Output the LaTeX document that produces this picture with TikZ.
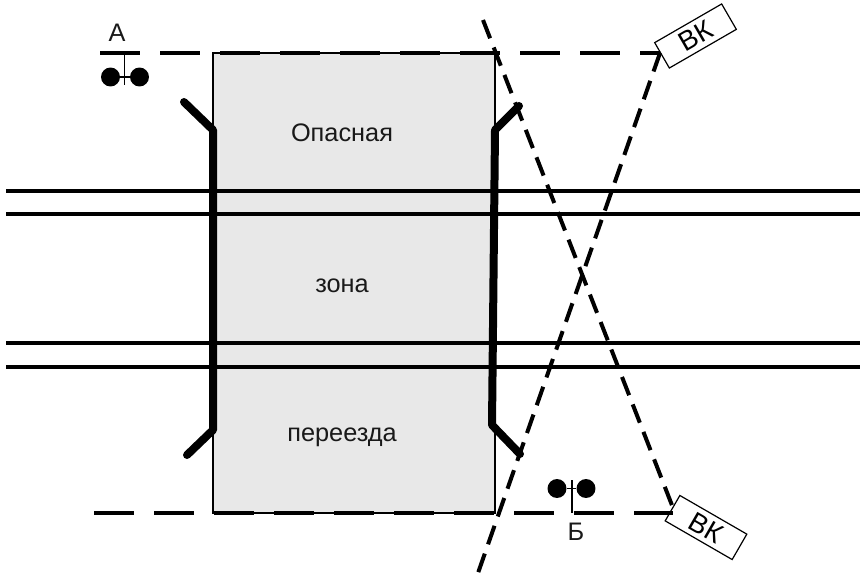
\documentclass[tikz,border=0pt]{standalone}
\usepackage{fontspec}
\setmainfont{Liberation Sans}
\tikzset{
  zone/.style={draw=black,line width=0.9pt,fill=black!9,minimum width=211.5pt,minimum height=345pt,inner sep=0pt},
  lbl/.style={font=\fontsize{19}{21}\selectfont,inner sep=0pt,anchor=base,text=black!90},
  rail/.style={line width=3.3pt},
  barrier/.style={line width=6pt,line cap=round,line join=round},
  stopline/.style={line width=2.6pt,dash pattern=on 30pt off 15pt},
  sight/.style={line width=3pt,dash pattern=on 14.7pt off 7.4pt},
  thin line/.style={line width=0.9pt},
  lamp/.style={circle,fill=black,minimum size=14.2pt,inner sep=0pt},
  camera/.style={draw=black,fill=white,line width=0.9pt,minimum width=58pt,minimum height=22pt,inner sep=0pt,font=\fontsize{20.5}{22}\selectfont}
}
\begin{document}
\begin{tikzpicture}[x=0.75pt,y=-0.75pt]
\useasboundingbox (0,0) rectangle (866,577);
\node[zone] (Z) at (354,283) {};
\node[lbl] (t1) at (342,142) {Опасная};
\node[lbl] (t2) at (342,292) {зона};
\node[lbl] (t3) at (342,441) {переезда};
% rails
\foreach \n/\y in {a/191,b/214,c/343,d/367}{
  \coordinate (r\n l) at (6,\y);
  \coordinate (r\n r) at (860,\y);
  \draw[rail] (r\n l) -- (r\n r);
}
% barriers
\coordinate (b1) at (184,102);\coordinate (b2) at (213,130);\coordinate (b3) at (213,430);\coordinate (b4) at (187,455);
\draw[barrier] (b1) -- (b2) -- (b3) -- (b4);
\coordinate (c1) at (519,106);\coordinate (c2) at (495,130);\coordinate (c3) at (492,425);\coordinate (c4) at (520,454);
\draw[barrier] (c1) -- (c2) -- (c3) -- (c4);
% cameras
\node[camera,rotate=30] (V1) at (695.5,36) {ВК};
\node[camera,rotate=-30] (V2) at (706,527.5) {ВК};
% stop lines
\coordinate (s1) at (100,53);\coordinate (s2) at (660,53);
\coordinate (s3) at (94,513);\coordinate (s4) at (673,513);
\draw[stopline] (s1) -- (s2);
\draw[stopline] (s3) -- (s4);
% sight lines
\coordinate (k1) at (483,20);\coordinate (k2) at (675,513);
\coordinate (k3) at (478,573);\coordinate (k4) at (660,53);
\draw[sight] (k1) -- (k2);
\draw[sight] (k4) -- (k3);
% signals
\node[lamp] (A1) at (110.5,77) {};
\node[lamp] (A2) at (139.5,77) {};
\coordinate (A0) at (124.5,53);\coordinate (A3) at (124.5,85);
\draw[thin line] (A0) -- (A3);
\draw[thin line] (A1) -- (A2);
\node[lbl] (LA) at (117,42) {А};
\node[lamp] (B1) at (557,488.5) {};
\node[lamp] (B2) at (586,488.5) {};
\coordinate (B0) at (572,513);\coordinate (B3) at (572,480);
\draw[thin line] (B0) -- (B3);
\draw[thin line] (B1) -- (B2);
\node[lbl] (LB) at (576,540) {Б};
\end{tikzpicture}
\end{document}
